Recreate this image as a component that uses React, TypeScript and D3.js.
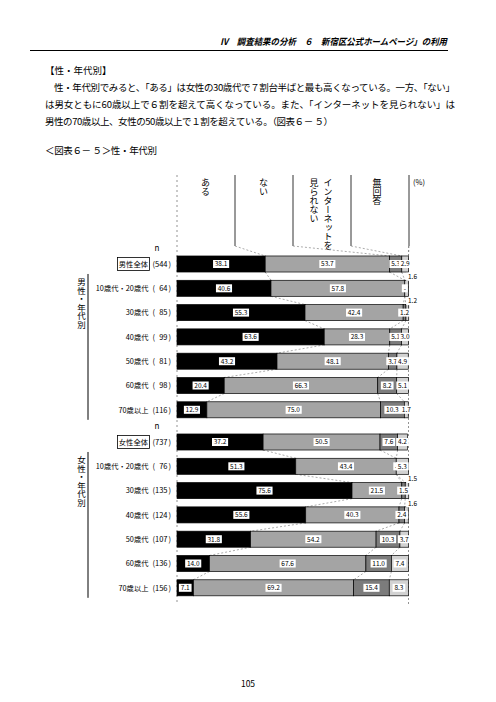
import React from "react";
import * as d3 from "d3";

const categories = ["全体", "10歳代・20歳代", "30歳代", "40歳代", "50歳代", "60歳代", "70歳以上"];
const seriesNames = ["ある", "ない", "インターネットを見られない", "無回答"];

const maleN = [544, 64, 85, 99, 81, 98, 116];
const maleAru = [38.1, 40.6, 55.3, 63.6, 43.2, 20.4, 12.9];
const maleNai = [53.7, 57.8, 42.4, 28.3, 48.1, 66.3, 75.0];
const maleMirarenai = [5.3, 0, 1.2, 5.1, 3.7, 8.2, 10.3];
const maleMukaitou = [2.9, 1.6, 1.2, 3.0, 4.9, 5.1, 1.7];

const femaleN = [737, 76, 135, 124, 107, 136, 156];
const femaleAru = [37.2, 51.3, 75.6, 55.6, 31.8, 14.0, 7.1];
const femaleNai = [50.5, 43.4, 21.5, 40.3, 54.2, 67.6, 69.2];
const femaleMirarenai = [7.6, 0, 1.5, 2.4, 10.3, 11.0, 15.4];
const femaleMukaitou = [4.2, 5.3, 1.5, 1.6, 3.7, 7.4, 8.3];

const colors = ["#000000", "#a4a4a4", "#7c7c7c", "#d2d2d2"];
const FONT = "'Noto Sans CJK JP', 'Noto Sans', sans-serif";

const x = d3.scaleLinear().domain([0, 100]).range([177, 408.5]);

function buildRows(n: number[], s: number[][]) {
  return n.map((nn, i) => {
    const vals = s.map((arr) => arr[i]);
    const cum = [0];
    vals.forEach((v) => cum.push(cum[cum.length - 1] + v));
    return { n: nn, vals, cum };
  });
}

const maleRows = buildRows(maleN, [maleAru, maleNai, maleMirarenai, maleMukaitou]);
const femaleRows = buildRows(femaleN, [femaleAru, femaleNai, femaleMirarenai, femaleMukaitou]);

function Label({ cx, cy, text }: { cx: number; cy: number; text: string }) {
  const w = text.length * 3.4 + 2.5;
  return (
    <g>
      <rect x={cx - w / 2} y={cy - 4} width={w} height={8} fill="#fff" />
      <text x={cx} y={cy + 2.4} fontSize={6.5} textAnchor="middle" fill="#000" fontFamily={FONT}>
        {text}
      </text>
    </g>
  );
}

function Group({ rows, y0, gender, groupLabel, showHeaderLinks }: any) {
  const y = d3
    .scaleBand<number>()
    .domain(d3.range(rows.length))
    .range([y0, y0 + rows.length * 24.3])
    .paddingInner(0.34)
    .paddingOuter(0.17);
  const bw = y.bandwidth();
  const connectors: JSX.Element[] = [];
  rows.forEach((r: any, i: number) => {
    if (i < rows.length - 1) {
      const nx = rows[i + 1];
      [1, 2, 3].forEach((k) => {
        connectors.push(
          <line
            key={`c${i}-${k}`}
            x1={x(r.cum[k])}
            y1={(y(i) as number) + bw}
            x2={x(nx.cum[k])}
            y2={y(i + 1) as number}
            stroke="#888"
            strokeWidth={0.7}
            strokeDasharray="2,2"
          />
        );
      });
    }
  });
  const first = rows[0];
  const headerLinks = showHeaderLinks
    ? [1, 2, 3, 4].map((k) => (
        <line
          key={`h${k}`}
          x1={177 + k * 58}
          y1={246}
          x2={x(first.cum[k])}
          y2={y(0) as number}
          stroke="#888"
          strokeWidth={0.7}
          strokeDasharray="2,2"
        />
      ))
    : null;
  const top = y(0) as number;
  const bottom = (y(rows.length - 1) as number) + bw;
  return (
    <g>
      {headerLinks}
      {connectors}
      <text x={157} y={top - 5} fontSize={8} fontFamily={FONT} textAnchor="middle">n</text>
      {rows.map((r: any, i: number) => {
        const yy = y(i) as number;
        const cy = yy + bw / 2;
        const catText = i === 0 ? gender + categories[0] : categories[i];
        const outside = r.vals[3] < 2 && r.vals[2] < 3;
        return (
          <g key={i}>
            {i === 0 ? (
              <rect x={117.5} y={cy - 6.5} width={32} height={13} fill="#fff" stroke="#000" strokeWidth={0.8} />
            ) : null}
            <text x={i === 0 ? 148 : 148.5} y={cy + 2.8} fontSize={7.3} fontFamily={FONT} textAnchor="end">
              {catText}
            </text>
            <text x={152.5} y={cy + 2.8} fontSize={7.5} fontFamily={FONT}>(</text>
            <text x={167.5} y={cy + 2.8} fontSize={7.5} fontFamily={FONT} textAnchor="end">{r.n}</text>
            <text x={171} y={cy + 2.8} fontSize={7.5} fontFamily={FONT} textAnchor="end">)</text>
            {r.vals.map((v: number, k: number) =>
              v > 0 ? (
                <rect
                  key={k}
                  x={x(r.cum[k])}
                  y={yy}
                  width={x(r.cum[k + 1]) - x(r.cum[k])}
                  height={bw}
                  fill={colors[k]}
                  stroke="#000"
                  strokeWidth={0.7}
                />
              ) : null
            )}
            {r.vals.map((v: number, k: number) => {
              if (v === 0) return <Label key={`l${k}`} cx={x(r.cum[k])} cy={cy} text="-" />;
              if (k === 3 && outside)
                return <Label key={`l${k}`} cx={x(100) + 4} cy={yy - 3.5} text={v.toFixed(1)} />;
              const cx = (x(r.cum[k]) + x(r.cum[k + 1])) / 2;
              return <Label key={`l${k}`} cx={cx} cy={cy} text={v.toFixed(1)} />;
            })}
          </g>
        );
      })}
      <line x1={88} y1={top + 18} x2={88} y2={bottom + 2} stroke="#000" strokeWidth={1} />
      <text
        x={81.5}
        y={top + 22}
        fontSize={8.5}
        fontFamily={FONT}
        style={{ writingMode: "vertical-rl" as any }}
      >
        {groupLabel}
      </text>
    </g>
  );
}

export default function App() {
  const para = [
    { t: "　性・年代別でみると、「ある」は女性の30歳代で７割台半ばと最も高くなっている。一方、「ない」", y: 91, len: 410 },
    { t: "は男女ともに60歳以上で６割を超えて高くなっている。また、「インターネットを見られない」は", y: 108, len: 410 },
    { t: "男性の70歳以上、女性の50歳以上で１割を超えている。（図表６－ ５）", y: 125, len: 288 },
  ];
  const headerCols = [0, 1, 2, 3, 4].map((k) => 177 + k * 58);
  return (
    <svg width={496} height={702} style={{ position: "absolute", left: 0, top: 0, background: "#fff" }} fontFamily={FONT}>
      <rect x={0} y={0} width={496} height={702} fill="#fff" />
      <text x={220} y={45} fontSize={9} fontStyle="italic" fontWeight="bold" textLength={227} lengthAdjust="spacingAndGlyphs">
        Ⅳ　調査結果の分析　６　新宿区公式ホームページ」の利用
      </text>
      <line x1={30} y1={50.5} x2={448} y2={50.5} stroke="#000" strokeWidth={1.2} />
      <text x={45} y={74} fontSize={9.5}>【性・年代別】</text>
      {para.map((p, i) => (
        <text key={i} x={45} y={p.y} fontSize={9.5} textLength={p.len} lengthAdjust="spacing">
          {p.t}
        </text>
      ))}
      <text x={45} y={154} fontSize={9.5} textLength={112} lengthAdjust="spacing">＜図表６－ ５＞性・年代別</text>

      {/* axis dashed lines */}
      <line x1={177} y1={175} x2={177} y2={604} stroke="#666" strokeWidth={0.7} strokeDasharray="2,3" />
      <line x1={x(100)} y1={246} x2={x(100)} y2={604} stroke="#666" strokeWidth={0.7} strokeDasharray="2,2" />

      {/* header columns */}
      {headerCols.slice(1).map((hx, i) => (
        <line key={i} x1={hx} y1={175} x2={hx} y2={246} stroke="#000" strokeWidth={0.8} />
      ))}
      <text x={205.5} y={178} fontSize={9} style={{ writingMode: "vertical-rl" as any }}>{seriesNames[0]}</text>
      <text x={263.5} y={178} fontSize={9} style={{ writingMode: "vertical-rl" as any }}>{seriesNames[1]}</text>
      <text x={328} y={178} fontSize={9} style={{ writingMode: "vertical-rl" as any }}>インターネットを</text>
      <text x={314} y={178} fontSize={9} style={{ writingMode: "vertical-rl" as any }}>見られない</text>
      <text x={377} y={178} fontSize={9} style={{ writingMode: "vertical-rl" as any }}>{seriesNames[3]}</text>
      <text x={413} y={185} fontSize={7.5}>(%)</text>

      <Group rows={maleRows} y0={251.85} gender="男性" groupLabel="男性・年代別" showHeaderLinks />
      <Group rows={femaleRows} y0={429.85} gender="女性" groupLabel="女性・年代別" />

      <text x={248} y={687} fontSize={8.5} textAnchor="middle">105</text>
    </svg>
  );
}
